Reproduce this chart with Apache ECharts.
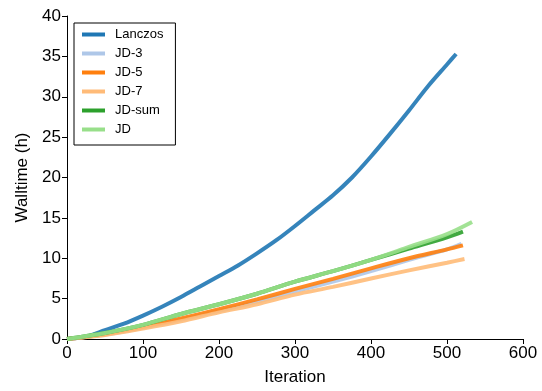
<!DOCTYPE html>
<html>
<head>
<meta charset="utf-8">
<script src="https://cdn.jsdelivr.net/npm/echarts@6/dist/echarts.min.js"></script>
<style>html,body{margin:0;padding:0;background:#fff}#c{width:542px;height:391px}</style>
</head>
<body>
<div id="c"></div>
<script>
const seriesNames = ['Lanczos', 'JD-3', 'JD-5', 'JD-7', 'JD-sum', 'JD'];
const lanczosX = [0, 25, 50, 75, 100, 125, 150, 175, 200, 225, 250, 275, 300, 325, 350, 375, 400, 425, 450, 475, 500, 512];
const lanczosY = [0, 0.3, 1.1, 1.9, 2.9, 4.0, 5.2, 6.5, 7.8, 9.1, 10.6, 12.2, 14.0, 15.9, 17.8, 20.0, 22.6, 25.4, 28.3, 31.3, 34.0, 35.3];
const jd3X = [0, 50, 100, 150, 200, 250, 300, 350, 400, 450, 500, 519];
const jd3Y = [0, 0.55, 1.4, 2.4, 3.5, 4.6, 5.9, 7.1, 8.4, 9.8, 11.1, 11.8];
const jd5X = [0, 50, 100, 150, 200, 250, 300, 350, 400, 450, 500, 521];
const jd5Y = [0, 0.6, 1.5, 2.55, 3.7, 4.9, 6.2, 7.45, 8.75, 10.0, 11.1, 11.6];
const jd7X = [0, 50, 100, 150, 200, 250, 300, 350, 400, 450, 500, 523];
const jd7Y = [0, 0.5, 1.3, 2.2, 3.3, 4.3, 5.5, 6.45, 7.5, 8.5, 9.45, 9.9];
const jdSumX = [0, 50, 100, 150, 200, 250, 300, 350, 400, 450, 500, 521];
const jdSumY = [0, 0.75, 1.75, 3.1, 4.3, 5.6, 7.1, 8.4, 9.8, 11.2, 12.6, 13.3];
const jdX = [0, 50, 100, 150, 200, 250, 300, 350, 400, 450, 500, 533];
const jdY = [0, 0.75, 1.75, 3.1, 4.3, 5.6, 7.1, 8.4, 9.8, 11.4, 13.0, 14.5];
const xTicks = [0, 100, 200, 300, 400, 500, 600];
const yTicks = [0, 5, 10, 15, 20, 25, 30, 35, 40];

const colors = ['#1f77b4', '#aec7e8', '#ff7f0e', '#ffbb78', '#2ca02c', '#98df8a'];
const xs = [lanczosX, jd3X, jd5X, jd7X, jdSumX, jdX];
const ys = [lanczosY, jd3Y, jd5Y, jd7Y, jdSumY, jdY];
const font = "'Liberation Sans', Arial, Helvetica, sans-serif";

const chart = echarts.init(document.getElementById('c'), null, {renderer: 'canvas'});
chart.setOption({
  animation: false,
  backgroundColor: '#fff',
  color: colors,
  grid: {left: 67, right: 19, top: 16, bottom: 49, containLabel: false},
  legend: {
    orient: 'vertical',
    left: 74, top: 23,
    padding: [4, 12, 8, 8],
    borderColor: '#000', borderWidth: 1, borderRadius: 0,
    itemWidth: 23, itemHeight: 4, itemGap: 4,
    icon: 'rect',
    textStyle: {fontFamily: font, fontSize: 13, color: '#000', lineHeight: 15, padding: [0, 0, 0, 5]},
    data: seriesNames
  },
  xAxis: {
    type: 'value', min: xTicks[0], max: xTicks[xTicks.length - 1], interval: 100,
    name: 'Iteration', nameLocation: 'middle', nameGap: 30,
    nameTextStyle: {fontFamily: font, fontSize: 17, color: '#000'},
    axisLine: {show: true, lineStyle: {color: '#000', width: 1}},
    axisTick: {show: true, inside: false, length: 5, lineStyle: {color: '#000'}},
    axisLabel: {fontFamily: font, fontSize: 17, color: '#000', margin: 6},
    splitLine: {show: false}
  },
  yAxis: {
    type: 'value', min: yTicks[0], max: yTicks[yTicks.length - 1], interval: 5,
    name: 'Walltime (h)', nameLocation: 'middle', nameGap: 36, nameRotate: 90,
    nameTextStyle: {fontFamily: font, fontSize: 17, color: '#000'},
    axisLine: {show: true, lineStyle: {color: '#000', width: 1}},
    axisTick: {show: true, inside: false, length: 5, lineStyle: {color: '#000'}},
    axisLabel: {fontFamily: font, fontSize: 17, color: '#000', margin: 6},
    splitLine: {show: false}
  },
  series: seriesNames.map((n, i) => ({
    name: n, type: 'line', showSymbol: false, symbol: 'none', smooth: 0.3,
    lineStyle: {width: 4, color: colors[i], opacity: 0.9},
    itemStyle: {color: colors[i]},
    data: xs[i].map((x, j) => [x, ys[i][j]])
  }))
});
</script>
</body>
</html>
